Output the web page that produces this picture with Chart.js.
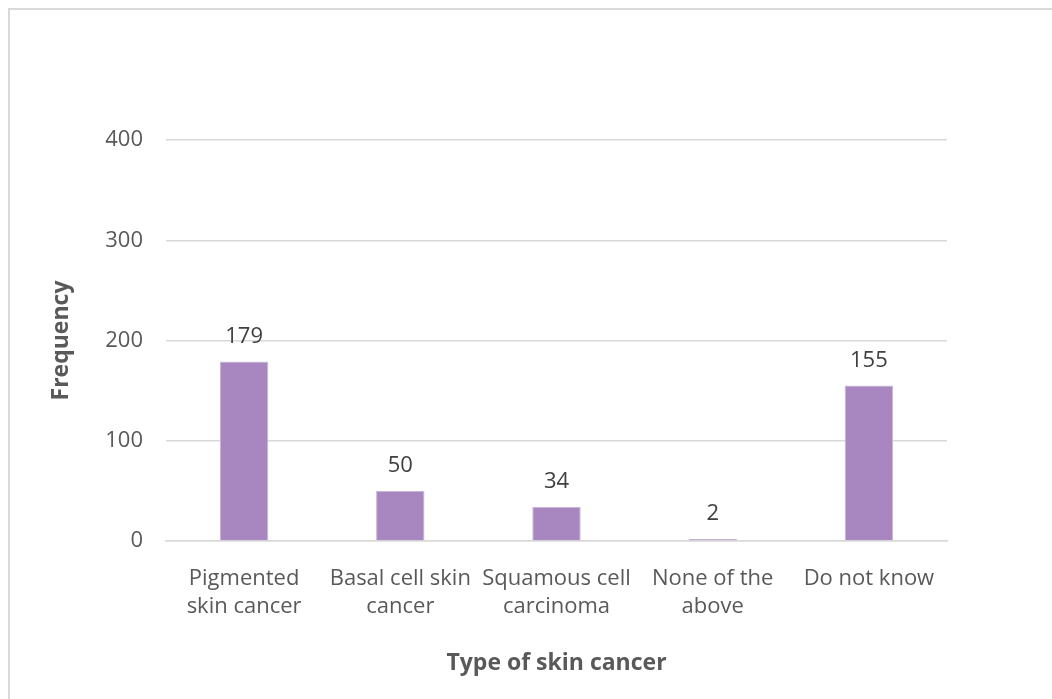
<!DOCTYPE html>
<html>
<head>
<meta charset="utf-8">
<script src="https://cdn.jsdelivr.net/npm/chart.js@4/dist/chart.umd.min.js"></script>
<style>
  html, body { margin: 0; padding: 0; background: #fff; width: 1052px; height: 699px; overflow: hidden; }
  #frame { position: absolute; left: 8px; top: 8px; width: 1100px; height: 760px;
           border-left: 2px solid #d9d9d9; border-top: 2px solid #d9d9d9; }
  #wrap { position: absolute; left: 0; top: 0; width: 1052px; height: 699px; }
</style>
</head>
<body>
<div id="frame"></div>
<div id="wrap"><canvas id="chart" width="1052" height="699"></canvas></div>
<script>
// Survey answers: which type of skin cancer respondents named
const categories = [
  ["Pigmented", "skin cancer"],
  ["Basal cell skin", "cancer"],
  ["Squamous cell", "carcinoma"],
  ["None of the", "above"],
  "Do not know"
];
const frequencies = [179, 50, 34, 2, 155];
const yTicks = [0, 100, 200, 300, 400];

const FONT = "'Open Sans', 'DejaVu Sans', sans-serif";
const TEXT = "#595959";

// Writes each bar's value just above it
const valueLabels = {
  id: "valueLabels",
  afterDatasetsDraw(chart) {
    const ctx = chart.ctx;
    const meta = chart.getDatasetMeta(0);
    ctx.save();
    ctx.font = "22px " + FONT;
    ctx.fillStyle = "#404040";
    ctx.textAlign = "center";
    ctx.textBaseline = "middle";
    meta.data.forEach((bar, i) => {
      ctx.fillText(String(chart.data.datasets[0].data[i]), bar.x, bar.y - 25);
    });
    ctx.restore();
  }
};

new Chart(document.getElementById("chart"), {
  type: "bar",
  data: {
    labels: categories,
    datasets: [{
      data: frequencies,
      backgroundColor: "#a886bf",
      borderColor: "#c9b3d8",
      borderWidth: 1,
      barPercentage: 0.31,
      categoryPercentage: 1.0
    }]
  },
  options: {
    responsive: false,
    animation: false,
    layout: { padding: { left: 0, top: 140, right: 105, bottom: 0 } },
    plugins: { legend: { display: false }, tooltip: { enabled: false } },
    scales: {
      y: {
        min: yTicks[0],
        max: yTicks[yTicks.length - 1],
        afterBuildTicks(scale) { scale.ticks = yTicks.map(v => ({ value: v })); },
        afterFit(scale) { scale.width = 166; },
        border: { display: false },
        grid: { color: "#d9d9d9", lineWidth: 1.5, drawTicks: false },
        ticks: { color: TEXT, font: { family: FONT, size: 22 }, padding: 23 },
        title: {
          display: true, text: "Frequency", color: TEXT,
          font: { family: FONT, size: 23, weight: "bold" }, padding: { top: 48, bottom: 0 }
        }
      },
      x: {
        afterFit(scale) { scale.height = 699 - 541; },
        border: { color: "#d9d9d9", width: 1.5 },
        grid: { display: false, drawTicks: false },
        ticks: { color: TEXT, font: { family: FONT, size: 22, lineHeight: 1.25 }, padding: 24, maxRotation: 0, autoSkip: false },
        title: {
          display: true, text: "Type of skin cancer", color: TEXT,
          font: { family: FONT, size: 23, weight: "bold" }, padding: { top: 0, bottom: 22 }
        }
      }
    }
  },
  plugins: [valueLabels]
});
</script>
</body>
</html>
